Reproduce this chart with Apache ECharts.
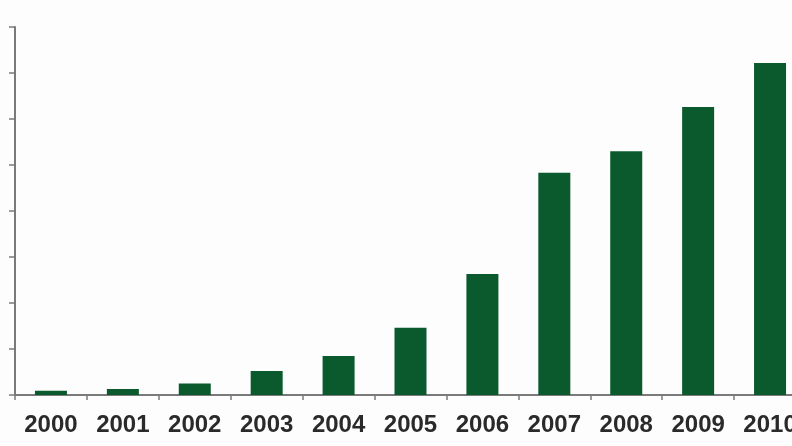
<!DOCTYPE html>
<html>
<head>
<meta charset="utf-8">
<script src="https://cdn.jsdelivr.net/npm/echarts@6/dist/echarts.min.js"></script>
<style>html,body{margin:0;padding:0;background:#fdfdfd;overflow:hidden;width:792px;height:446px}#c{width:806px;height:446px}</style>
</head>
<body>
<div id="c"></div>
<script>
var categories = ['2000','2001','2002','2003','2004','2005','2006','2007','2008','2009','2010'];
var values = [0.9, 1.3, 2.5, 5.2, 8.5, 14.6, 26.3, 48.3, 53.0, 62.6, 72.2];
var yMin = 0, yMax = 80, yInterval = 10;

var chart = echarts.init(document.getElementById('c'));
chart.setOption({
  backgroundColor: '#fdfdfd',
  animation: false,
  grid: {left: 15, right: 0, top: 27, bottom: 51, containLabel: false},
  xAxis: {
    type: 'category',
    data: categories,
    axisLine: {lineStyle: {color: '#7a7a7a', width: 2}},
    axisTick: {show: true, inside: false, length: 5, lineStyle: {color: '#7a7a7a', width: 1.5}},
    axisLabel: {fontFamily: 'Liberation Sans, Arial, sans-serif', fontSize: 24, fontWeight: 'bold', color: '#2a2a2a', margin: 18},
    splitLine: {show: false}
  },
  yAxis: {
    type: 'value',
    min: yMin, max: yMax, interval: yInterval,
    axisLine: {show: true, lineStyle: {color: '#7a7a7a', width: 2}},
    axisTick: {show: true, length: 6, lineStyle: {color: '#7a7a7a', width: 1.5}},
    axisLabel: {show: false},
    splitLine: {show: false}
  },
  series: [{
    type: 'bar',
    data: values,
    barWidth: 32,
    itemStyle: {color: '#0b5a2e'}
  }]
});
</script>
</body>
</html>
